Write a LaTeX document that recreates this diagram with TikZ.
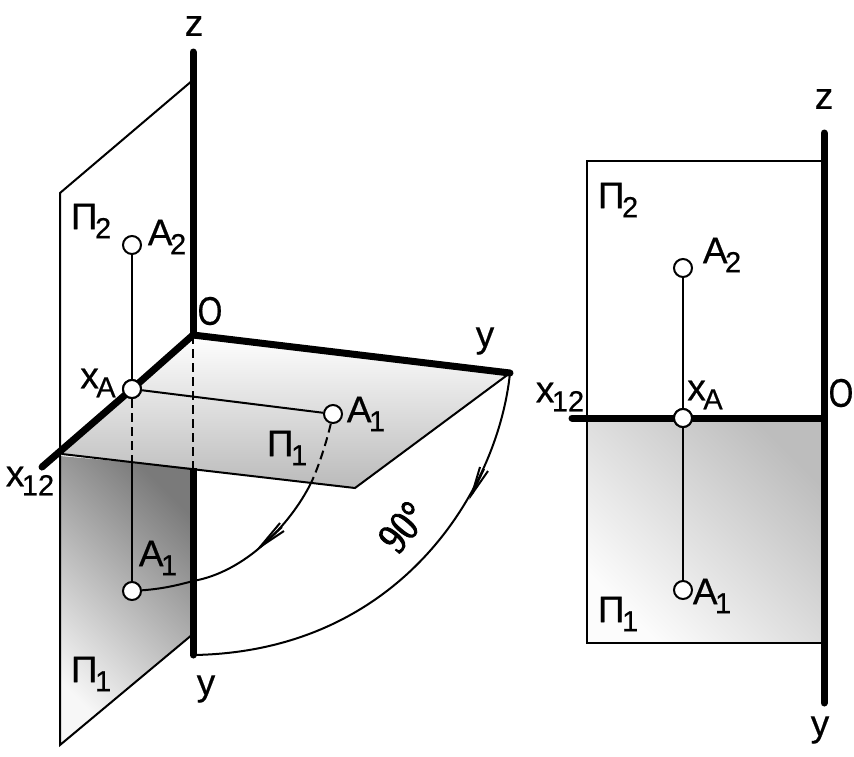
\documentclass[tikz,border=0pt]{standalone}
\usepackage{fontspec}
\setmainfont{Liberation Sans}[FakeBold=0.5]
\newfontfamily\numfont{Liberation Serif}[FakeBold=2.5]
\newcommand{\sublab}[2]{#1\kern-1.5pt\raisebox{-9pt}{\fontsize{29}{29}\selectfont\kern-1pt #2}}
\newcommand{\narrowO}{\scalebox{0.86}[1.08]{O}}
\tikzset{
  thinline/.style={line width=2pt,black},
  thickline/.style={line width=7pt,black,line cap=round},
  dashline/.style={line width=2pt,black,dash pattern=on 9pt off 5pt},
  ptmark/.style={circle,draw=black,line width=2pt,fill=white,minimum size=18pt,inner sep=0pt},
  lab/.style={inner sep=0pt,font=\fontsize{37}{37}\selectfont,text=black}
}
\begin{document}
\begin{tikzpicture}[x=1pt,y=-1pt]
\useasboundingbox (0,0) rectangle (854,756);
% ---- coordinates, left figure
\coordinate (O) at (193,335);
\coordinate (Zt) at (193,52);
\coordinate (Yr) at (510,373);
\coordinate (Xe) at (42,467);
\coordinate (Yd) at (193,655);
\coordinate (Yu) at (193,468);
\coordinate (F1) at (355,488);
\coordinate (F2) at (62,454);
\coordinate (BL) at (60,745);
\coordinate (BR) at (193,634);
\coordinate (Bt) at (60,193);
\coordinate (Bu) at (193,80);
\coordinate (Xl) at (60,456);
\coordinate (P3) at (132,461);
% ---- shaded planes, left
\shade[top color=white,bottom color=black!27] (O) -- (Yr) -- (F1) -- (F2) -- cycle;
\shade[left color=black!52,right color=black!3,shading angle=-45] (Xl) -- (Yu) -- (BR) -- (BL) -- cycle;
% ---- plane outlines, left
\draw[thinline] (Bu) -- (Bt) -- (BL) -- (BR);
\draw[thinline] (F2) -- (F1) -- (Yr);
% ---- projectors, left
\node[ptmark] (A2) at (132,245) {};
\node[ptmark] (XA) at (132,389) {};
\node[ptmark] (A1) at (333,414) {};
\node[ptmark] (A1d) at (132,591) {};
\draw[thinline] (A2) -- (XA);
\draw[thinline] (XA) -- (A1);
\draw[dashline] (XA) -- (P3);
\draw[thinline] (P3) -- (A1d);
\draw[dashline] (O) -- (Yu);
% ---- arcs, left
\coordinate (C1) at (311,483);
\draw[dashline] (A1) .. controls (328,436) and (320,464) .. (C1);
\draw[thinline] (C1) .. controls (290,525) and (245,572) .. (193,581)
   .. controls (175,586) and (160,589) .. (A1d);
\draw[thinline] (Yr) .. controls (498,490) and (400,652) .. (Yd);
% ---- arrowheads on arcs
\coordinate (T1) at (260,547);
\draw[thinline,line join=miter] (280,523) -- (T1) -- (284,531);
\draw[thinline] (T1) -- (282,527);
\coordinate (T2) at (472,494);
\draw[thinline,line join=miter] (480,467) -- (T2) -- (488,471);
\draw[thinline] (T2) -- (484,469);
% ---- thick axes, left
\draw[thickline] (Zt) -- (O);
\draw[thickline] (O) -- (Yr);
\draw[thickline] (O) -- (XA);
\draw[thickline] (XA) -- (Xe);
\draw[thickline,line cap=butt] (Yu) -- (193,650);
\draw[thickline] (193,650) -- (Yd);
\node[ptmark] at (XA) {};
% ---- labels, left
\node[lab] (lz) at (194,26) {z};
\node[lab] (lO) at (210,311) {\narrowO};
\node[lab] (lyr) at (485,341) {y};
\node[lab] (lyd) at (206,689) {y};
\node[lab] (lP2) at (91,221) {\sublab{Π}{2}};
\node[lab] (lA2) at (167,237) {\sublab{A}{2}};
\node[lab] (lxA) at (98,383) {\sublab{x}{A}};
\node[lab] (lx12) at (30,481) {\sublab{x}{12}};
\node[lab] (lA1) at (366,414) {\sublab{A}{1}};
\node[lab] (lP1) at (287,448) {\sublab{Π}{1}};
\node[lab] (lA1d) at (158,558) {\sublab{A}{1}};
\node[lab] (lP1d) at (91,674) {\sublab{Π}{1}};
\node[inner sep=0pt,rotate=50,font=\numfont\fontsize{44}{44}\selectfont] (l90) at (403,527) {\scalebox{0.8}[1]{90°}};
% ---- right figure
\coordinate (RO) at (824,418);
\coordinate (RZ) at (824,133);
\coordinate (RY) at (824,703);
\coordinate (RX) at (572,418);
\coordinate (RTL) at (587,161);
\coordinate (RTR) at (824,161);
\coordinate (RBL) at (587,643);
\coordinate (RBR) at (824,643);
\coordinate (RML) at (587,418);
\shade[left color=black!26,right color=black!1,shading angle=-45] (RML) -- (RO) -- (RBR) -- (RBL) -- cycle;
\draw[thinline] (RTR) -- (RTL) -- (RBL) -- (RBR);
\node[ptmark] (RA2) at (683,268) {};
\node[ptmark] (RXA) at (683,418) {};
\node[ptmark] (RA1) at (683,590) {};
\draw[thinline] (RA2) -- (RXA);
\draw[thinline] (RXA) -- (RA1);
\draw[thickline] (RZ) -- (RY);
\draw[thickline] (RX) -- (RXA);
\draw[thickline] (RXA) -- (RO);
\node[ptmark] at (RXA) {};
\node[lab] (rz) at (824,99) {z};
\node[lab] (rO) at (841,393) {\narrowO};
\node[lab] (ry) at (820,730) {y};
\node[lab] (rP2) at (618,200) {\sublab{Π}{2}};
\node[lab] (rA2) at (722,255) {\sublab{A}{2}};
\node[lab] (rxA) at (705,395) {\sublab{x}{A}};
\node[lab] (rx12) at (560,397) {\sublab{x}{12}};
\node[lab] (rA1) at (712,596) {\sublab{A}{1}};
\node[lab] (rP1) at (618,614) {\sublab{Π}{1}};
\end{tikzpicture}
\end{document}
